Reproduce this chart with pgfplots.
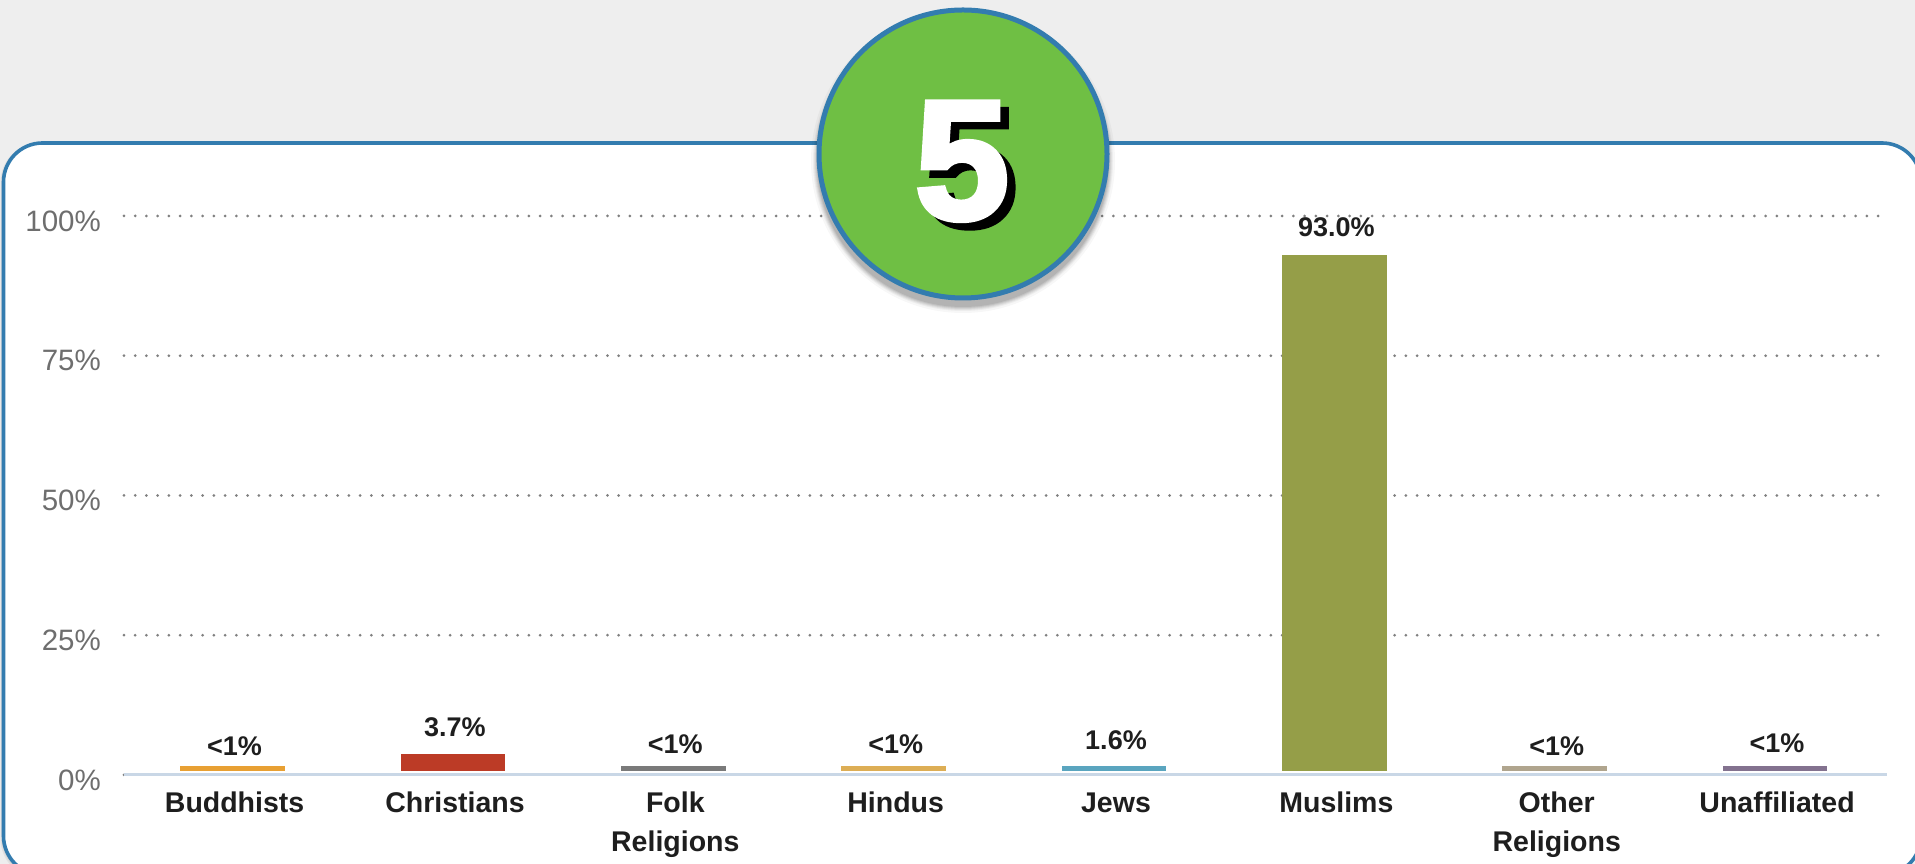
\documentclass[border=0pt]{standalone}
\usepackage{fontspec}
\setmainfont{Liberation Sans}
\newfontfamily\fivefont[FakeBold=3]{Liberation Sans Bold}
\usepackage{pgfplots}
\pgfplotsset{compat=1.18}
\definecolor{bgg}{HTML}{EEEEEE}
\definecolor{frameb}{HTML}{337CAF}
\definecolor{circg}{HTML}{6FBF44}
\definecolor{basel}{HTML}{C9D7E6}
\definecolor{gridg}{HTML}{808080}
\definecolor{tickg}{HTML}{6E6E6E}
\definecolor{txt}{HTML}{1E1E1E}
\definecolor{cBud}{HTML}{E8A033}
\definecolor{cChr}{HTML}{BC3B26}
\definecolor{cFol}{HTML}{7A7A7A}
\definecolor{cHin}{HTML}{DDAE55}
\definecolor{cJew}{HTML}{5AA5BF}
\definecolor{cMus}{HTML}{959E48}
\definecolor{cOth}{HTML}{B0A58E}
\definecolor{cUna}{HTML}{83728F}
\newcommand{\topstrut}{\rule{0pt}{26pt}}
\begin{document}
\begin{tikzpicture}[x=1pt,y=1pt]
\useasboundingbox (0,0) rectangle (1915,864);
\begin{scope}
\clip (0,0) rectangle (1915,864);
\fill[bgg] (0,0) rectangle (1915,864);
\foreach \s in {1,2,3}{
  \fill[black,opacity=0.05,rounded corners=39pt] (3.5-\s,-11-\s) rectangle (1921,721);
}
\draw[frameb,line width=3.6pt,fill=white,rounded corners=39pt] (3.5,-11) rectangle (1921,721);
\end{scope}
\begin{axis}[
  at={(124pt,89pt)}, anchor=south west,
  scale only axis, width=1762.5pt, height=559pt,
  xmin=-0.4928, xmax=7.506, ymin=0, ymax=100,
  axis line style={draw=none},
  tick style={draw=none}, major tick length=0pt,
  xtick={0,1,2,3,4,5,6,7},
  xticklabels={\topstrut Buddhists,\topstrut Christians,{\topstrut Folk\\Religions},\topstrut Hindus,\topstrut Jews,\topstrut Muslims,{\topstrut Other\\Religions},\topstrut Unaffiliated},
  xticklabel style={font=\fontsize{28.5}{39}\selectfont\bfseries, text=txt, align=center, anchor=north, inner sep=0pt, xshift=2pt, yshift=-11.7pt},
  ytick={0,25,50,75,100},
  yticklabels={0\%,25\%,50\%,75\%,100\%},
  yticklabel style={font=\fontsize{29.5}{34}\selectfont, text=tickg, anchor=east, inner sep=0pt, xshift=-23pt, yshift=-5pt},
  ymajorgrids,
  grid style={gridg, line width=3pt, line cap=round, dash pattern=on 0pt off 11.244pt},
  clip=false,
]
\addplot[ybar, bar width=104.5pt, bar shift=0pt, fill=cBud, draw=none] coordinates {(0,1.6)};
\addplot[ybar, bar width=104.5pt, bar shift=0pt, fill=cChr, draw=none] coordinates {(1,3.7)};
\addplot[ybar, bar width=104.5pt, bar shift=0pt, fill=cFol, draw=none] coordinates {(2,1.6)};
\addplot[ybar, bar width=104.5pt, bar shift=0pt, fill=cHin, draw=none] coordinates {(3,1.6)};
\addplot[ybar, bar width=104.5pt, bar shift=0pt, fill=cJew, draw=none] coordinates {(4,1.6)};
\addplot[ybar, bar width=104.5pt, bar shift=0pt, fill=cMus, draw=none] coordinates {(5,93.0)};
\addplot[ybar, bar width=104.5pt, bar shift=0pt, fill=cOth, draw=none] coordinates {(6,1.6)};
\addplot[ybar, bar width=104.5pt, bar shift=0pt, fill=cUna, draw=none] coordinates {(7,1.6)};
% white gap between the bars and the base line
\addplot[fill=white, draw=none] coordinates {(-0.4928,-0.3) (7.506,-0.3) (7.506,0.65) (-0.4928,0.65)} -- cycle;
\addplot[basel, line width=3pt, forget plot] coordinates {(-0.4928,0) (7.506,0)};
\addplot[draw=none, mark=none, point meta=explicit symbolic,
  nodes near coords,
  nodes near coords style={font=\fontsize{27}{30}\selectfont\bfseries, text=txt, anchor=base, inner sep=0pt, xshift=2pt, yshift=0pt},
] coordinates {
  (0,3.4) [{<1\%}]
  (1,6.85) [3.7\%]
  (2,3.76) [{<1\%}]
  (3,3.88) [{<1\%}]
  (4,4.65) [1.6\%]
  (5,96.3) [93.0\%]
  (6,3.4) [{<1\%}]
  (7,3.94) [{<1\%}]
};
\end{axis}
\foreach \r/\o in {152/0.03,150/0.04,149/0.05,148/0.06,147/0.07,146/0.08}{
  \fill[black,opacity=\o] (963,864-161) circle (\r);
}
\draw[frameb,line width=5pt,fill=circg] (963,864-154) circle (144);
\node[anchor=base,inner sep=0pt,font=\fontsize{170}{180}\fivefont,text=black] at (970.5,864-226.5) {5};
\node[anchor=base,inner sep=0pt,font=\fontsize{170}{180}\fivefont,text=white] at (962,864-219) {5};
\end{tikzpicture}
\end{document}
